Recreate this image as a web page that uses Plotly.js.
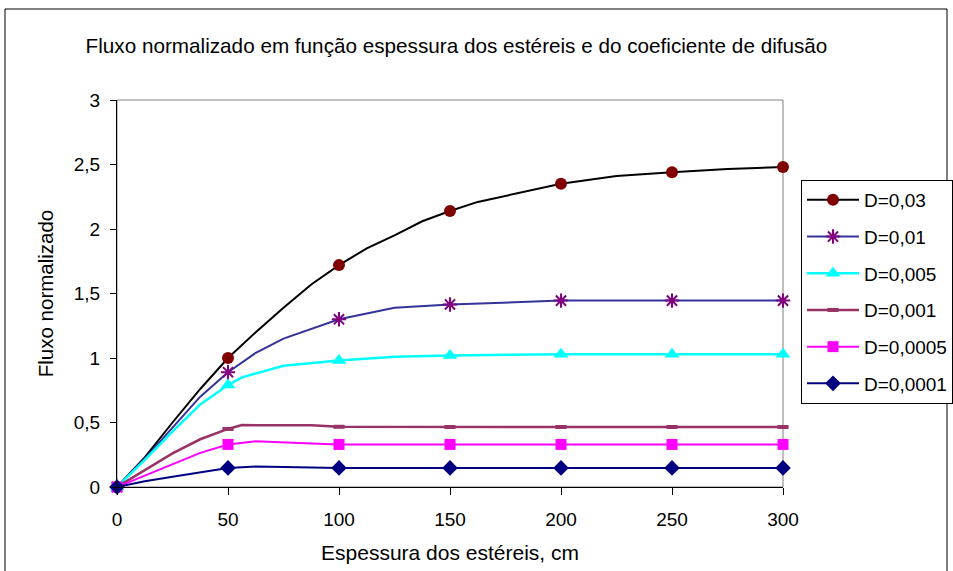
<!DOCTYPE html>
<html>
<head>
<meta charset="utf-8">
<script src="https://cdn.plot.ly/plotly-3.0.1.min.js"></script>
<style>
  html, body { margin: 0; padding: 0; background: #ffffff; overflow: hidden; }
  #chart { width: 953px; height: 571px; }
</style>
</head>
<body>
<div id="chart"></div>
<script>
// Espessura dos estéreis (cm) and normalized flux for each diffusion coefficient
const seriesNames = ['D=0,03', 'D=0,01', 'D=0,005', 'D=0,001', 'D=0,0005', 'D=0,0001'];

const xD003 = [0, 12.5, 25, 37.5, 50, 62.5, 75, 87.5, 100, 112.5, 125, 137.5, 150, 162.5, 200, 225, 250, 275, 300];
const yD003 = [0, 0.23, 0.5, 0.76, 1.0, 1.2, 1.39, 1.57, 1.72, 1.85, 1.95, 2.06, 2.14, 2.21, 2.35, 2.41, 2.44, 2.465, 2.48];

const xD001 = [0, 12.5, 25, 37.5, 50, 62.5, 75, 100, 125, 150, 200, 250, 300];
const yD001 = [0, 0.22, 0.46, 0.70, 0.89, 1.04, 1.15, 1.30, 1.39, 1.415, 1.445, 1.445, 1.445];

const xD0005 = [0, 12.5, 25, 37.5, 50, 56.25, 75, 100, 125, 150, 200, 250, 300];
const yD0005 = [0, 0.21, 0.43, 0.64, 0.79, 0.85, 0.94, 0.98, 1.01, 1.02, 1.03, 1.03, 1.03];

const xD0001 = [0, 12.5, 25, 37.5, 50, 56.25, 87.5, 100, 150, 200, 250, 300];
const yD0001 = [0, 0.13, 0.26, 0.37, 0.45, 0.48, 0.478, 0.467, 0.465, 0.465, 0.465, 0.465];

const xD00005 = [0, 12.5, 25, 37.5, 50, 62.5, 87.5, 100, 150, 200, 250, 300];
const yD00005 = [0, 0.09, 0.18, 0.265, 0.33, 0.355, 0.337, 0.33, 0.33, 0.33, 0.33, 0.33];

const xD00001 = [0, 12.5, 25, 50, 62.5, 87.5, 100, 150, 200, 250, 300];
const yD00001 = [0, 0.045, 0.08, 0.148, 0.158, 0.155, 0.148, 0.148, 0.148, 0.148, 0.148];

const xTickVals = [0, 50, 100, 150, 200, 250, 300];
const yTickVals = [0, 0.5, 1, 1.5, 2, 2.5, 3];

const FONT = 'Liberation Sans, Arial, sans-serif';
const HIDDEN = 'rgba(0,0,0,0)';

// markers are shown only on the 50 cm stations; the in-between points only shape the line
function stationColors(xs, color) {
  return xs.map(v => (v % 50 === 0 ? color : HIDDEN));
}

function series(name, xs, ys, lineColor, lineWidth, symbol, markerColor, size, outlineWidth) {
  const open = outlineWidth > 0;
  return {
    type: 'scatter',
    mode: 'lines+markers',
    name: name,
    legendgroup: name,
    x: xs,
    y: ys,
    cliponaxis: false,
    line: { color: lineColor, width: lineWidth },
    marker: {
      symbol: symbol,
      size: size,
      opacity: 1,
      color: stationColors(xs, markerColor),
      line: open
        ? { color: stationColors(xs, markerColor), width: outlineWidth }
        : { width: 0 }
    }
  };
}

const traces = [
  series(seriesNames[0], xD003, yD003, '#000000', 2, 'circle', '#800000', 12, 0),
  series(seriesNames[1], xD001, yD001, '#333399', 2, 'asterisk-open', '#800080', 12, 2),
  series(seriesNames[2], xD0005, yD0005, '#00FFFF', 2.5, 'triangle-up', '#00FFFF', 13, 0),
  series(seriesNames[3], xD0001, yD0001, '#993366', 2.5, 'line-ew-open', '#993366', 8, 4),
  series(seriesNames[4], xD00005, yD00005, '#FF00FF', 2, 'square', '#FF00FF', 11, 0),
  series(seriesNames[5], xD00001, yD00001, '#000080', 2, 'diamond', '#000080', 12, 0)
];

const layout = {
  width: 953,
  height: 571,
  margin: { l: 117, r: 170, t: 100, b: 84, pad: 0 },
  paper_bgcolor: '#ffffff',
  plot_bgcolor: '#ffffff',
  separators: ',.',
  font: { family: FONT, color: '#000000', size: 19 },
  title: {
    text: 'Fluxo normalizado em função espessura dos estéreis e do coeficiente de difusão',
    font: { family: FONT, size: 20.7, color: '#000000' },
    xref: 'container', yref: 'container',
    x: 0.479, xanchor: 'center',
    y: 1 - 46 / 571, yanchor: 'middle'
  },
  xaxis: {
    range: [0, 300],
    tickvals: xTickVals,
    ticks: 'outside', ticklen: 7, tickwidth: 1, tickcolor: '#000000',
    showline: true, linecolor: '#000000', linewidth: 1,
    showgrid: false, zeroline: false,
    tickfont: { family: FONT, size: 19, color: '#000000' },
    ticklabelstandoff: 8,
    title: { text: 'Espessura dos estéreis, cm', font: { family: FONT, size: 21 }, standoff: 16 },
    automargin: false
  },
  yaxis: {
    range: [0, 3],
    tickvals: yTickVals,
    ticks: 'outside', ticklen: 6, tickwidth: 1, tickcolor: '#000000',
    showline: true, linecolor: '#000000', linewidth: 1,
    showgrid: false, zeroline: false,
    tickfont: { family: FONT, size: 19, color: '#000000' },
    ticklabelstandoff: 6,
    title: { text: 'Fluxo normalizado', font: { family: FONT, size: 20.5 }, standoff: 14 },
    automargin: false
  },
  legend: {
    xref: 'container', yref: 'container',
    x: 801 / 953, xanchor: 'left',
    y: 1 - 180 / 571, yanchor: 'top',
    bgcolor: '#ffffff', bordercolor: '#000000', borderwidth: 1,
    font: { family: FONT, size: 19, color: '#000000' },
    itemwidth: 52,
    traceorder: 'grouped',
    tracegroupgap: 9
  },
  shapes: [
    // plot-area frame (top and right edges in grey)
    { type: 'rect', xref: 'paper', yref: 'paper', x0: 0, x1: 1, y0: 0, y1: 1,
      line: { color: '#808080', width: 1 }, layer: 'below' },
    // outer chart frame
    { type: 'rect', xref: 'paper', yref: 'paper',
      x0: (5 - 117) / 666, x1: (947 - 117) / 666, y0: -0.3, y1: (487 - 9) / 387,
      line: { color: '#000000', width: 1 }, layer: 'below' }
  ],
  showlegend: true
};

Plotly.newPlot('chart', traces, layout, { displayModeBar: false, staticPlot: true });
</script>
</body>
</html>
